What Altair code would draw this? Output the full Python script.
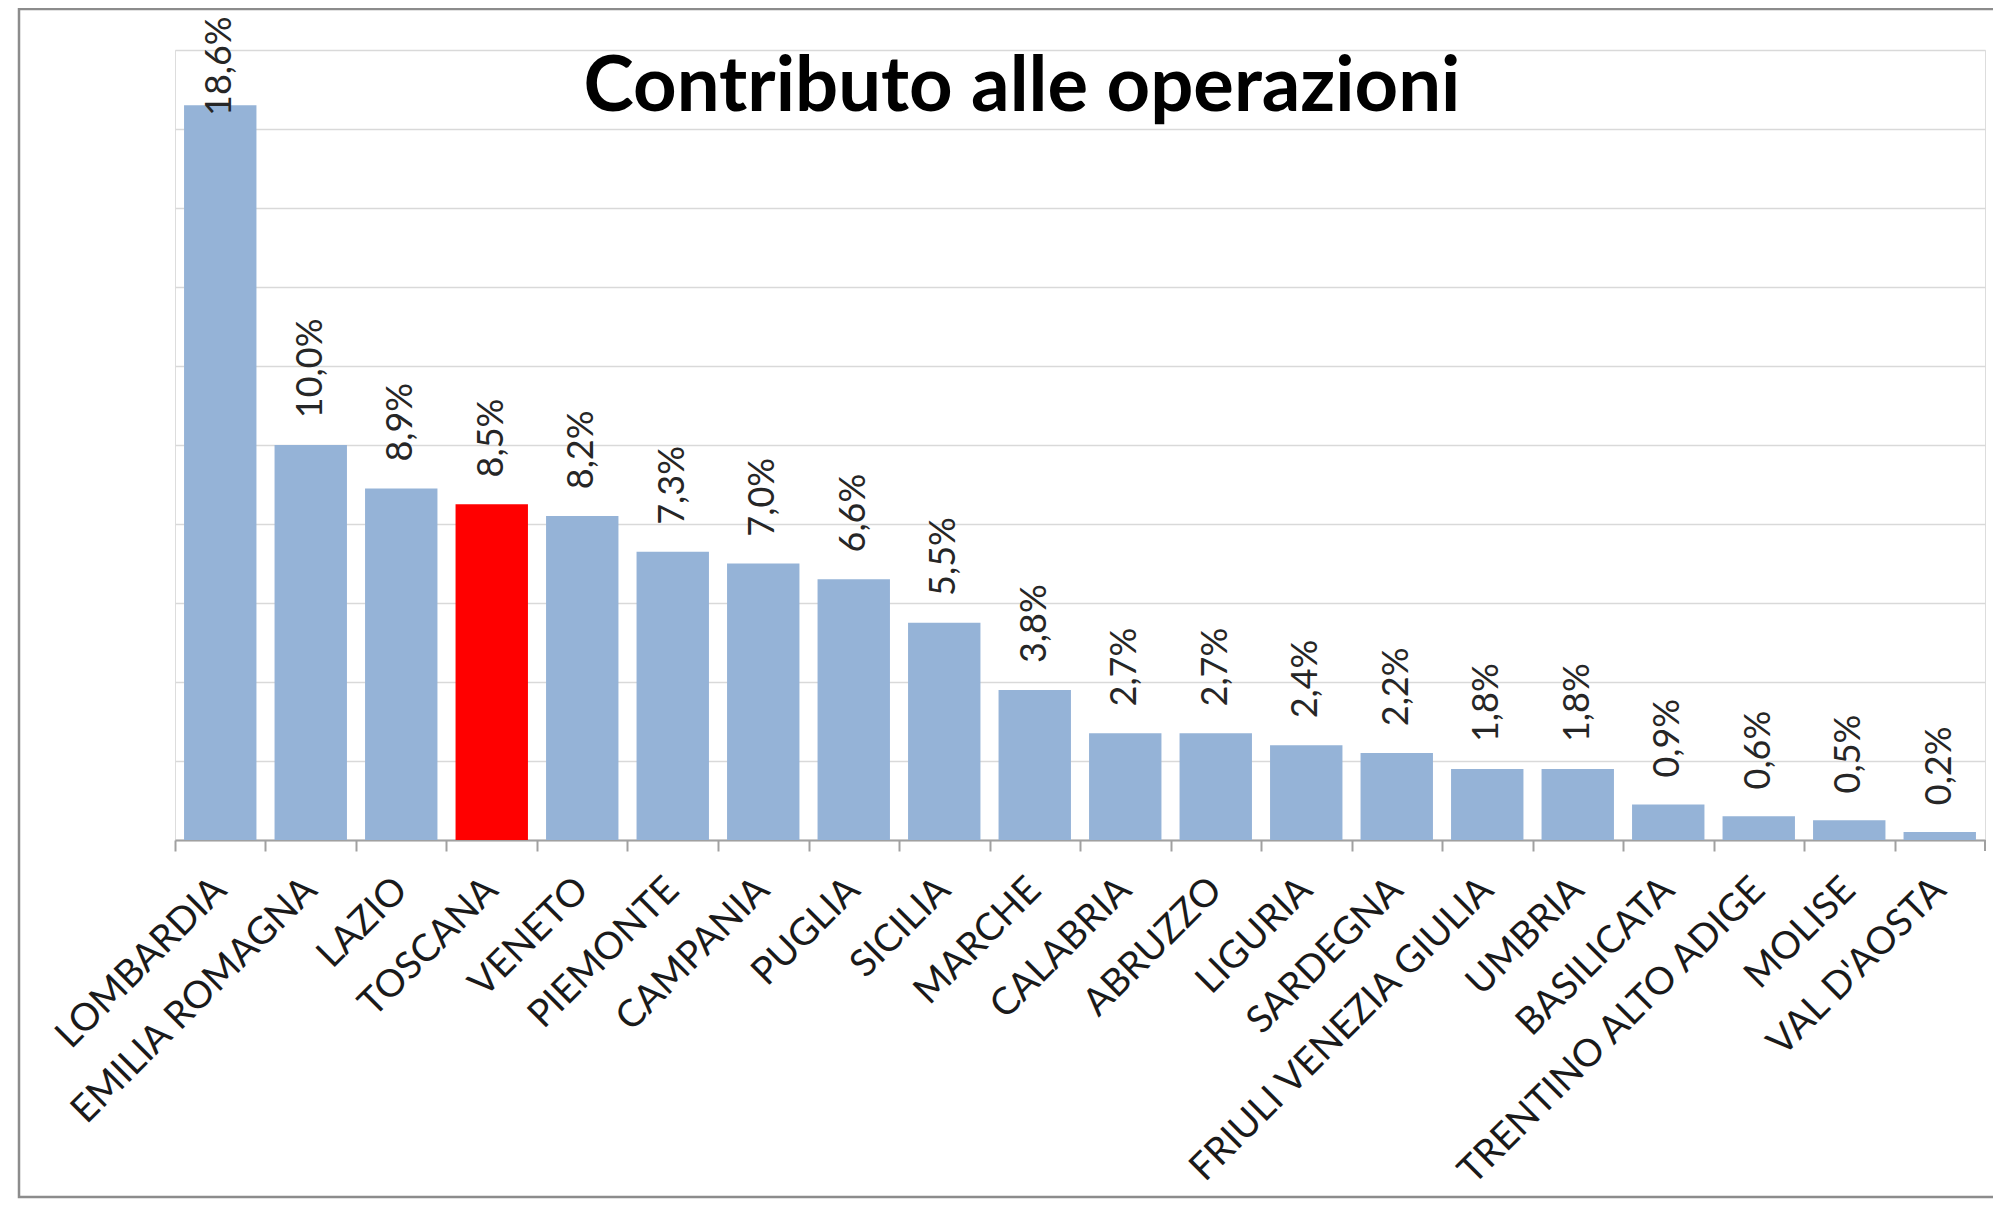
import altair as alt
import pandas as pd

regions = ["LOMBARDIA", "EMILIA ROMAGNA", "LAZIO", "TOSCANA", "VENETO", "PIEMONTE",
           "CAMPANIA", "PUGLIA", "SICILIA", "MARCHE", "CALABRIA", "ABRUZZO", "LIGURIA",
           "SARDEGNA", "FRIULI VENEZIA GIULIA", "UMBRIA", "BASILICATA",
           "TRENTINO ALTO ADIGE", "MOLISE", "VAL D'AOSTA"]
values = [18.6, 10.0, 8.9, 8.5, 8.2, 7.3, 7.0, 6.6, 5.5, 3.8, 2.7, 2.7, 2.4, 2.2,
          1.8, 1.8, 0.9, 0.6, 0.5, 0.2]
highlight = "TOSCANA"
grid_values = [0, 2, 4, 6, 8, 10, 12, 14, 16, 18, 20]
title_text = ["Contributo alle operazioni"]

df = pd.DataFrame({"region": regions, "value": values})
one = pd.DataFrame({"k": [0]})
title_df = pd.DataFrame({"t": title_text})

W, H = 1810, 790
FONT = "Lato"
AXIS_GRAY = "#a0a0a0"

x_enc = alt.X(
    "region:N", sort=regions, title=None,
    scale=alt.Scale(paddingInner=0.2, paddingOuter=0.1),
    axis=alt.Axis(
        labelAngle=315, labelAlign="right", labelBaseline="middle",
        labelFont=FONT, labelFontSize=38, labelColor="#1a1a1a",
        labelPadding=33, labelLimit=1000, labelOverlap=False,
        tickSize=11, tickColor=AXIS_GRAY, tickWidth=2,
        domainColor=AXIS_GRAY, domainWidth=2,
        tickOffset=-45.25, labelOffset=45.25, grid=False,
    ),
)
y_enc = alt.Y(
    "value:Q", title=None,
    scale=alt.Scale(domain=[0, 20], nice=False),
    axis=alt.Axis(values=grid_values, grid=True, domain=False, ticks=False,
                  labels=False, gridColor="#d9d9d9", gridWidth=1.6),
)

bars = alt.Chart(df).mark_bar().encode(
    x=x_enc, y=y_enc,
    color=alt.condition(alt.datum.region == highlight,
                        alt.value("#FF0000"), alt.value("#95B3D7")),
)

labels = alt.Chart(df).transform_calculate(
    pos="min(datum.value + 0.68, 18.33)",
    lab="replace(format(datum.value, '.1f'), '.', ',') + '%'",
).mark_text(
    angle=270, align="left", baseline="middle", font=FONT, fontSize=36,
    color="#262626",
).encode(
    x=alt.X("region:N", sort=regions),
    y=alt.Y("pos:Q"),
    text="lab:N",
)

end_tick = alt.Chart(one).mark_rule(color=AXIS_GRAY, strokeWidth=2).encode(
    x=alt.value(W), y=alt.value(H), y2=alt.value(H + 11)
)

frame = alt.Chart(one).mark_rect(
    filled=False, stroke="#8c8c8c", strokeWidth=2.5
).encode(
    x=alt.value(-156), x2=alt.value(W + 60),
    y=alt.value(-41), y2=alt.value(H + 357),
)

title = alt.Chart(title_df).mark_text(
    font=FONT, fontSize=76, fontWeight="bold", color="black",
    align="center", baseline="alphabetic",
).encode(
    x=alt.value(W / 2 - 58), y=alt.value(61), text="t:N"
)

chart = alt.layer(frame, bars, labels, end_tick, title).properties(
    width=W, height=H,
    autosize="none",
    padding={"left": 167, "top": 42, "right": 8, "bottom": 360},
).configure_view(strokeWidth=0).configure(background="white")

chart.save("out.html", embed_options={"renderer": "svg", "actions": False})
